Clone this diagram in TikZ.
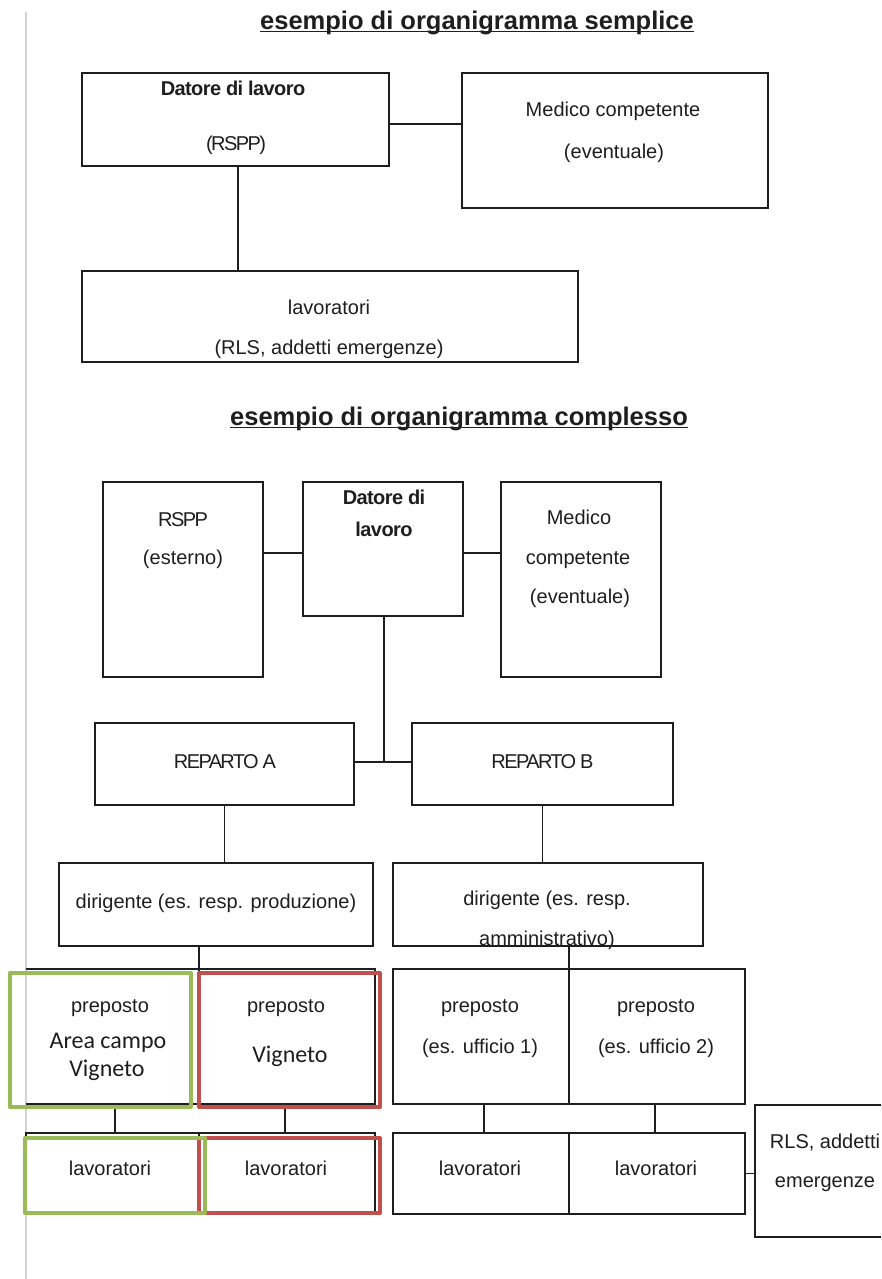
\documentclass[tikz,border=0pt]{standalone}
\usepackage{fontspec}
\setmainfont{Liberation Sans}
\newfontfamily\calfont{Carlito}
\definecolor{ink}{HTML}{1E1E1E}
\definecolor{pagerule}{HTML}{D2D2D2}
\definecolor{olgreen}{HTML}{9BBB59}
\definecolor{olred}{HTML}{C0504D}
% underline that sits just below the baseline, crossing descenders
\newcommand\undertext[1]{\setbox0\hbox{#1}\rlap{\rule[-2.8pt]{\wd0}{1.6pt}}\box0}

\tikzset{
  box/.style={draw=ink, line width=1.8pt, inner sep=0pt, outer sep=0pt},
  frame/.style={inner sep=0pt, outer sep=0pt},
  boxline/.style={draw=ink, line width=1.8pt},
  link/.style={draw=ink, line width=1.3pt},
  lbl/.style={inner sep=0pt, text=ink, font=\fontsize{20}{24}\selectfont, text height=14pt, text depth=4pt},
  caps/.style={lbl, font=\fontsize{20}{24}\selectfont\addfontfeature{LetterSpace=-8}},
  strong/.style={lbl, font=\fontsize{20}{24}\selectfont\bfseries\addfontfeature{LetterSpace=-3}},
  cal/.style={inner sep=0pt, text=ink, font=\calfont\fontsize{24}{28}\selectfont, text height=15pt, text depth=4pt},
  heading/.style={inner sep=0pt, text=ink, font=\fontsize{25.5}{30}\selectfont\bfseries, text height=17pt, text depth=4pt},
  olive/.style={draw=olgreen, line width=4pt, line join=round, inner sep=0pt},
  brick/.style={draw=olred, line width=4pt, line join=round, inner sep=0pt},
}

\begin{document}
\begin{tikzpicture}[x=1pt, y=-1pt]
\useasboundingbox (0,0) rectangle (881,1279);
\clip (0,0) rectangle (881,1279);
\fill[white] (0,0) rectangle (881,1279);

% page margin rule
\draw[pagerule, line width=1.4pt] (26,12) -- (26,1279);

% ---------- simple chart ----------
\node[heading] (title1) at (477,23) {\undertext{esempio di organigramma semplice}};

\node[box, minimum width=307, minimum height=93] (dl1) at (235.5,119.5) {};
\node[box, minimum width=306, minimum height=135] (med1) at (615,140.5) {};
\node[box, minimum width=496, minimum height=91] (lav1) at (330,316.5) {};

\draw[link] ([yshift=-4.5pt]dl1.east) -- ([yshift=-4.5pt]dl1.east -| med1.west);
\draw[link] ([xshift=2.5pt]dl1.south) -- ([xshift=2.5pt]dl1.south |- lav1.north);

\node[strong] (dl1a) at (233,91) {Datore di lavoro};
\node[caps] (dl1b) at (236,145) {(RSPP)};
\node[lbl] (med1a) at (613,112) {Medico competente};
\node[lbl] (med1b) at (614,153) {(eventuale)};
\node[lbl] (lav1a) at (329,309) {lavoratori};
\node[lbl] (lav1b) at (329,349) {(RLS, addetti emergenze)};

% ---------- complex chart ----------
\node[heading] (title2) at (459,419) {\undertext{esempio di organigramma complesso}};

\node[box, minimum width=160, minimum height=195] (rspp2) at (183,579.5) {};
\node[box, minimum width=160, minimum height=134] (dl2) at (383,549) {};
\node[box, minimum width=160, minimum height=195] (med2) at (581,579.5) {};

\draw[link] ([yshift=26.5pt]rspp2.east) -- ([yshift=26.5pt]rspp2.east -| dl2.west);
\draw[link] ([yshift=-4pt]dl2.east) -- ([yshift=-4pt]dl2.east -| med2.west);

\node[caps] (rspp2a) at (183,521.5) {RSPP};
\node[lbl] (rspp2b) at (183,559) {(esterno)};
\node[strong] (dl2a) at (384,499) {Datore di};
\node[strong] (dl2b) at (384,531) {lavoro};
\node[lbl] (med2a) at (579,519) {Medico};
\node[lbl] (med2b) at (578,559) {competente};
\node[lbl] (med2c) at (580,598) {(eventuale)};

% departments
\node[box, minimum width=259, minimum height=82] (repA) at (224.5,764) {};
\node[box, minimum width=261, minimum height=82] (repB) at (542.5,764) {};
\coordinate (jn) at (384,762);
\draw[link] ([xshift=1pt]dl2.south) -- (jn);
\draw[link] (repA.east |- jn) -- (repB.west |- jn);

\node[caps] (repAt) at (225,763.5) {REPARTO A};
\node[caps] (repBt) at (542.5,763.5) {REPARTO B};

% managers
\node[box, minimum width=314, minimum height=83] (dirA) at (216,904.5) {};
\node[box, minimum width=310, minimum height=83] (dirB) at (548,904.5) {};
\draw[link] (repA.south) -- (repA.south |- dirA.north);
\draw[link] (repB.south) -- (repB.south |- dirB.north);

\node[lbl] (dirAt) at (216,903) {dirigente (es. resp. produzione)};
\node[lbl] (dirBt) at (547,900) {dirigente (es. resp.};
\node[lbl] (dirBu) at (547,940) {amministrativo)};

% supervisors
\node[frame, minimum width=173, minimum height=135] (pA1) at (112.5,1036.5) {};
\draw[boxline] (pA1.north west) -- (pA1.north east) -- (pA1.south east) -- (pA1.south west);
\node[box, minimum width=176, minimum height=135] (pA2) at (287,1036.5) {};
\node[box, minimum width=176, minimum height=135] (pB1) at (481,1036.5) {};
\node[box, minimum width=176, minimum height=135] (pB2) at (657,1036.5) {};
\draw[link] (pA2.north west |- dirA.south) -- (pA2.north west);
\draw[link] (pB2.north west |- dirB.south) -- (pB2.north west);

% workers
\node[box, minimum width=173, minimum height=80] (lA1) at (112.5,1173) {};
\node[box, minimum width=176, minimum height=80] (lA2) at (287,1173) {};
\node[box, minimum width=176, minimum height=81] (lB1) at (481,1173.5) {};
\node[box, minimum width=176, minimum height=81] (lB2) at (657,1173.5) {};
\node[box, minimum width=165, minimum height=132] (rls) at (837.5,1171) {};

\draw[link] ([xshift=2.5pt]pA1.south) -- ([xshift=2.5pt]pA1.south |- lA1.north);
\draw[link] ([xshift=-2pt]pA2.south) -- ([xshift=-2pt]pA2.south |- lA2.north);
\draw[link] ([xshift=3pt]pB1.south) -- ([xshift=3pt]pB1.south |- lB1.north);
\draw[link] ([xshift=-2pt]pB2.south) -- ([xshift=-2pt]pB2.south |- lB2.north);
\draw[link] (lB2.east) -- (lB2.east -| rls.west);

% highlighted areas
\node[brick, minimum width=181, minimum height=134] (rP) at (289.5,1040) {};
\node[olive, minimum width=181, minimum height=134] (gP) at (100.5,1040) {};
\node[brick, minimum width=181, minimum height=75] (rL) at (289.5,1175.5) {};
\node[olive, minimum width=180, minimum height=75] (gL) at (115,1175.5) {};

% texts of the lower rows
\node[lbl] (pA1a) at (110,1007) {preposto};
\node[cal] (pA1b) at (108,1043) {Area campo};
\node[cal] (pA1c) at (107,1071) {Vigneto};
\node[lbl] (pA2a) at (286,1007) {preposto};
\node[cal] (pA2b) at (290,1057) {Vigneto};
\node[lbl] (pB1a) at (480,1007) {preposto};
\node[lbl] (pB1b) at (480,1048) {(es. ufficio 1)};
\node[lbl] (pB2a) at (656,1007) {preposto};
\node[lbl] (pB2b) at (656,1048) {(es. ufficio 2)};

\node[lbl] (lA1t) at (110,1170) {lavoratori};
\node[lbl] (lA2t) at (286,1170) {lavoratori};
\node[lbl] (lB1t) at (480,1170) {lavoratori};
\node[lbl] (lB2t) at (656,1170) {lavoratori};
\node[lbl] (rlsa) at (825,1143) {RLS, addetti};
\node[lbl] (rlsb) at (825,1182) {emergenze};
\end{tikzpicture}
\end{document}
